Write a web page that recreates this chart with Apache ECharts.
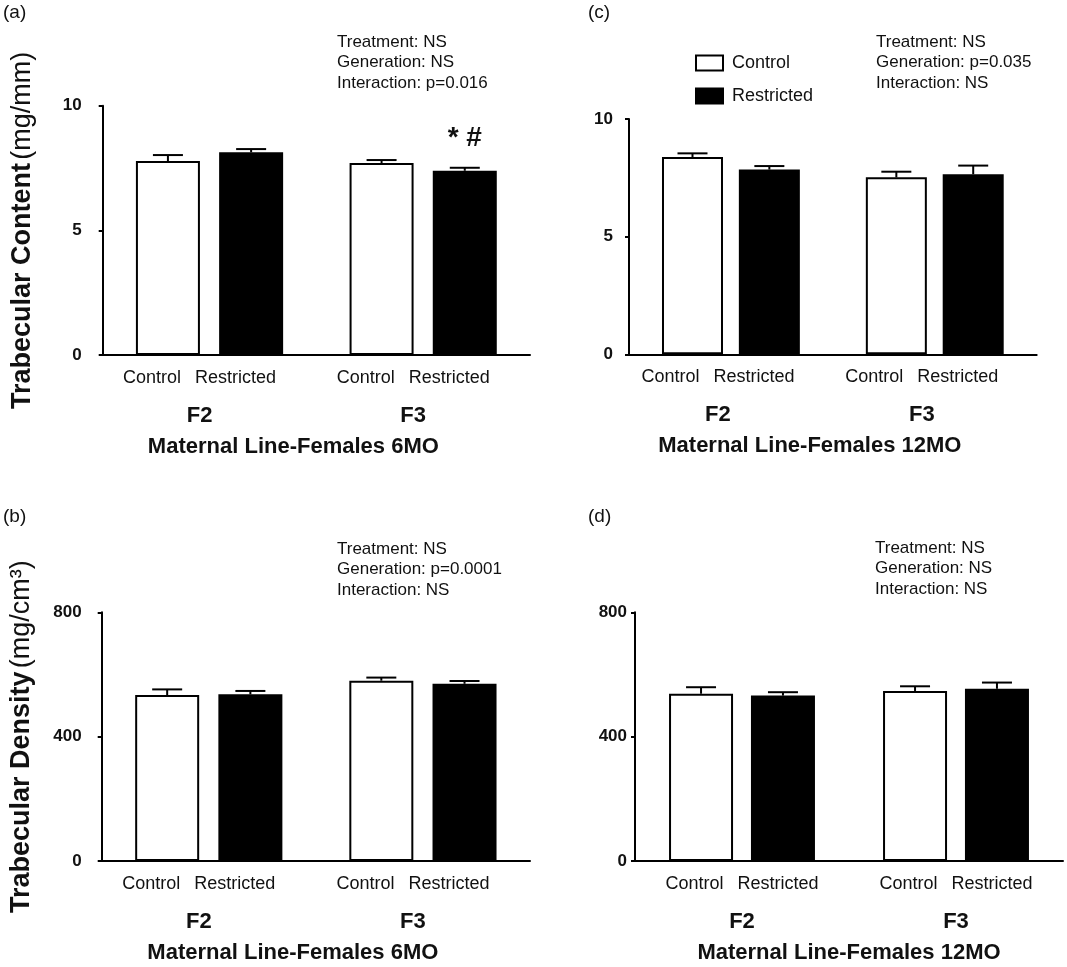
<!DOCTYPE html>
<html>
<head>
<meta charset="utf-8">
<script src="https://cdn.jsdelivr.net/npm/echarts@6/dist/echarts.min.js"></script>
<style>
html,body{margin:0;padding:0;background:#fff;}
#chart{width:1067px;height:967px;}
</style>
</head>
<body>
<div id="chart"></div>
<script>
// ---------- data ----------
const generations = ['F2', 'F3'];
const treatments = ['Control', 'Restricted'];

// (a) Trabecular Content, 6MO
const a_control = [7.78, 7.70];
const a_controlErr = [0.24, 0.12];
const a_restricted = [8.13, 7.39];
const a_restrictedErr = [0.13, 0.12];
const a_restrictedMarks = ['', '* #'];

// (c) Trabecular Content, 12MO
const c_control = [8.38, 7.52];
const c_controlErr = [0.16, 0.24];
const c_restricted = [7.85, 7.65];
const c_restrictedErr = [0.15, 0.37];

// (b) Trabecular Density, 6MO
const b_control = [534, 580];
const b_controlErr = [18, 10];
const b_restricted = [536, 570];
const b_restrictedErr = [11, 9];

// (d) Trabecular Density, 12MO
const d_control = [538, 547];
const d_controlErr = [21, 15];
const d_restricted = [532, 554];
const d_restrictedErr = [11, 20];

const contentTicks = {min: 0, max: 10, interval: 5};
const densityTicks = {min: 0, max: 800, interval: 400};

const statsA = ['Treatment: NS', 'Generation: NS', 'Interaction: p=0.016'];
const statsC = ['Treatment: NS', 'Generation: p=0.035', 'Interaction: NS'];
const statsB = ['Treatment: NS', 'Generation: p=0.0001', 'Interaction: NS'];
const statsD = ['Treatment: NS', 'Generation: NS', 'Interaction: NS'];

// ---------- layout ----------
const FONT = '"Liberation Sans", Arial, Helvetica, sans-serif';
const panels = [
  {grid: {left: 102.7, top: 105.7, width: 427.3, height: 249.3}, barW: 64, gap: 0.30,
   ctrl: a_control, ctrlErr: a_controlErr, rest: a_restricted, restErr: a_restrictedErr,
   ticks: contentTicks, yName: '{b|Trabecular Content} {n|(mg/mm)}', xName: 'Maternal Line-Females 6MO',
   labelMargin: 21, labelPad: 20, namePad: 46, marks: a_restrictedMarks},
  {grid: {left: 629, top: 119, width: 407.7, height: 235.3}, barW: 61, gap: 0.26,
   ctrl: c_control, ctrlErr: c_controlErr, rest: c_restricted, restErr: c_restrictedErr,
   ticks: contentTicks, yName: '', xName: 'Maternal Line-Females 12MO',
   labelMargin: 16, labelPad: 26, namePad: 46},
  {grid: {left: 101.7, top: 612.3, width: 428.3, height: 248.7}, barW: 64, gap: 0.30,
   ctrl: b_control, ctrlErr: b_controlErr, rest: b_restricted, restErr: b_restrictedErr,
   ticks: densityTicks, yName: '{b|Trabecular Density} {n|(mg/cm³)}', xName: 'Maternal Line-Females 6MO',
   labelMargin: 20, labelPad: 20, namePad: 46},
  {grid: {left: 635, top: 612.3, width: 428, height: 248.7}, barW: 64, gap: 0.28,
   ctrl: d_control, ctrlErr: d_controlErr, rest: d_restricted, restErr: d_restrictedErr,
   ticks: densityTicks, yName: '', xName: 'Maternal Line-Females 12MO',
   labelMargin: 8, labelPad: 0, namePad: 0}
];

const grids = [], xAxes = [], yAxes = [], series = [];

panels.forEach((p, i) => {
  grids.push(Object.assign({containLabel: false}, p.grid));
  xAxes.push({
    type: 'category', gridIndex: i, data: generations,
    axisLine: {lineStyle: {color: '#000', width: 2}},
    axisTick: {show: false},
    axisLabel: {
      margin: 11, interval: 0, padding: [0, p.labelPad, 0, 0],
      formatter: (v) => '{c|' + treatments[0] + '}{s|}{r|' + treatments[1] + '}\n{g|' + v + '}',
      rich: {
        c: {fontSize: 18, fontFamily: FONT, color: '#111', lineHeight: 24},
        s: {width: 14, lineHeight: 24},
        r: {fontSize: 18, fontFamily: FONT, color: '#111', lineHeight: 24},
        g: {fontSize: 22, fontWeight: 'bold', fontFamily: FONT, color: '#111', lineHeight: 51}
      }
    },
    name: p.xName, nameLocation: 'middle', nameGap: 81,
    nameTextStyle: {fontSize: 22, fontWeight: 'bold', fontFamily: FONT, color: '#111', padding: [0, p.namePad, 0, 0]}
  });
  yAxes.push({
    type: 'value', gridIndex: i, min: p.ticks.min, max: p.ticks.max, interval: p.ticks.interval,
    splitLine: {show: false},
    axisLine: {show: true, lineStyle: {color: '#000', width: 2}},
    axisTick: {show: true, length: 4, lineStyle: {color: '#000', width: 2}},
    axisLabel: {fontSize: 17, fontWeight: 'bold', fontFamily: FONT, color: '#111', margin: p.labelMargin},
    name: p.yName, nameLocation: 'middle', nameRotate: 90, nameGap: 67,
    nameTextStyle: {
      rich: {
        b: {fontSize: 27, fontWeight: 'bold', fontFamily: FONT, color: '#111'},
        n: {fontSize: 27, fontFamily: FONT, color: '#111'}
      }
    }
  });
  const restData = p.rest.map((v, k) => {
    const m = p.marks ? p.marks[k] : '';
    return m ? {value: v, label: {show: true, position: 'top', distance: 18, formatter: m,
      fontSize: 28, fontWeight: 'bold', fontFamily: FONT, color: '#111'}} : v;
  });
  series.push({
    name: 'Control', type: 'bar', xAxisIndex: i, yAxisIndex: i, data: p.ctrl,
    barWidth: p.barW, barGap: (p.gap * 100) + '%',
    itemStyle: {color: '#fff', borderColor: '#000', borderWidth: 2}, z: 2
  });
  series.push({
    name: 'Restricted', type: 'bar', xAxisIndex: i, yAxisIndex: i, data: restData,
    barWidth: p.barW, barGap: (p.gap * 100) + '%',
    itemStyle: {color: '#000', borderColor: '#000', borderWidth: 2}, z: 2
  });
  const errData = [];
  p.ctrl.forEach((v, k) => errData.push([k, v, p.ctrlErr[k], -1]));
  p.rest.forEach((v, k) => errData.push([k, v, p.restErr[k], 1]));
  series.push({
    type: 'custom', xAxisIndex: i, yAxisIndex: i, data: errData, z: 3, silent: true,
    renderItem: function (params, api) {
      const off = api.value(3) * (p.barW + p.barW * p.gap) / 2;
      const base = api.coord([api.value(0), api.value(1)]);
      const top = api.coord([api.value(0), api.value(1) + api.value(2)]);
      const x = base[0] + off;
      const style = {stroke: '#000', lineWidth: 2};
      return {
        type: 'group',
        children: [
          {type: 'line', shape: {x1: x, y1: base[1], x2: x, y2: top[1]}, style: style},
          {type: 'line', shape: {x1: x - 15, y1: top[1], x2: x + 15, y2: top[1]}, style: style}
        ]
      };
    }
  });
});

function statText(lines, left, top) {
  return {type: 'text', left: left, top: top,
    style: {text: lines.join('\n'), fontSize: 17, lineHeight: 20.5, fontFamily: FONT, fill: '#111'}};
}
function panelLabel(t, left, top) {
  return {type: 'text', left: left, top: top,
    style: {text: t, fontSize: 19, fontFamily: FONT, fill: '#111'}};
}

const option = {
  backgroundColor: '#fff',
  animation: false,
  grid: grids, xAxis: xAxes, yAxis: yAxes, series: series,
  legend: {
    orient: 'vertical', left: 690, top: 49, itemWidth: 27, itemHeight: 15, itemGap: 15,
    textStyle: {fontSize: 18, fontFamily: FONT, color: '#111', padding: [0, 0, 0, 4]},
    data: [
      {name: 'Control', icon: 'rect', itemStyle: {color: '#fff', borderColor: '#000', borderWidth: 2}},
      {name: 'Restricted', icon: 'rect', itemStyle: {color: '#000', borderColor: '#000', borderWidth: 2}}
    ],
    selectedMode: false
  },
  graphic: [
    panelLabel('(a)', 3, 3),
    panelLabel('(c)', 588, 3),
    panelLabel('(b)', 3, 507),
    panelLabel('(d)', 588, 507),
    statText(statsA, 337, 32),
    statText(statsC, 876, 32),
    statText(statsB, 337, 539),
    statText(statsD, 875, 538)
  ]
};

const chart = echarts.init(document.getElementById('chart'), null, {renderer: 'canvas'});
chart.setOption(option);
</script>
</body>
</html>
